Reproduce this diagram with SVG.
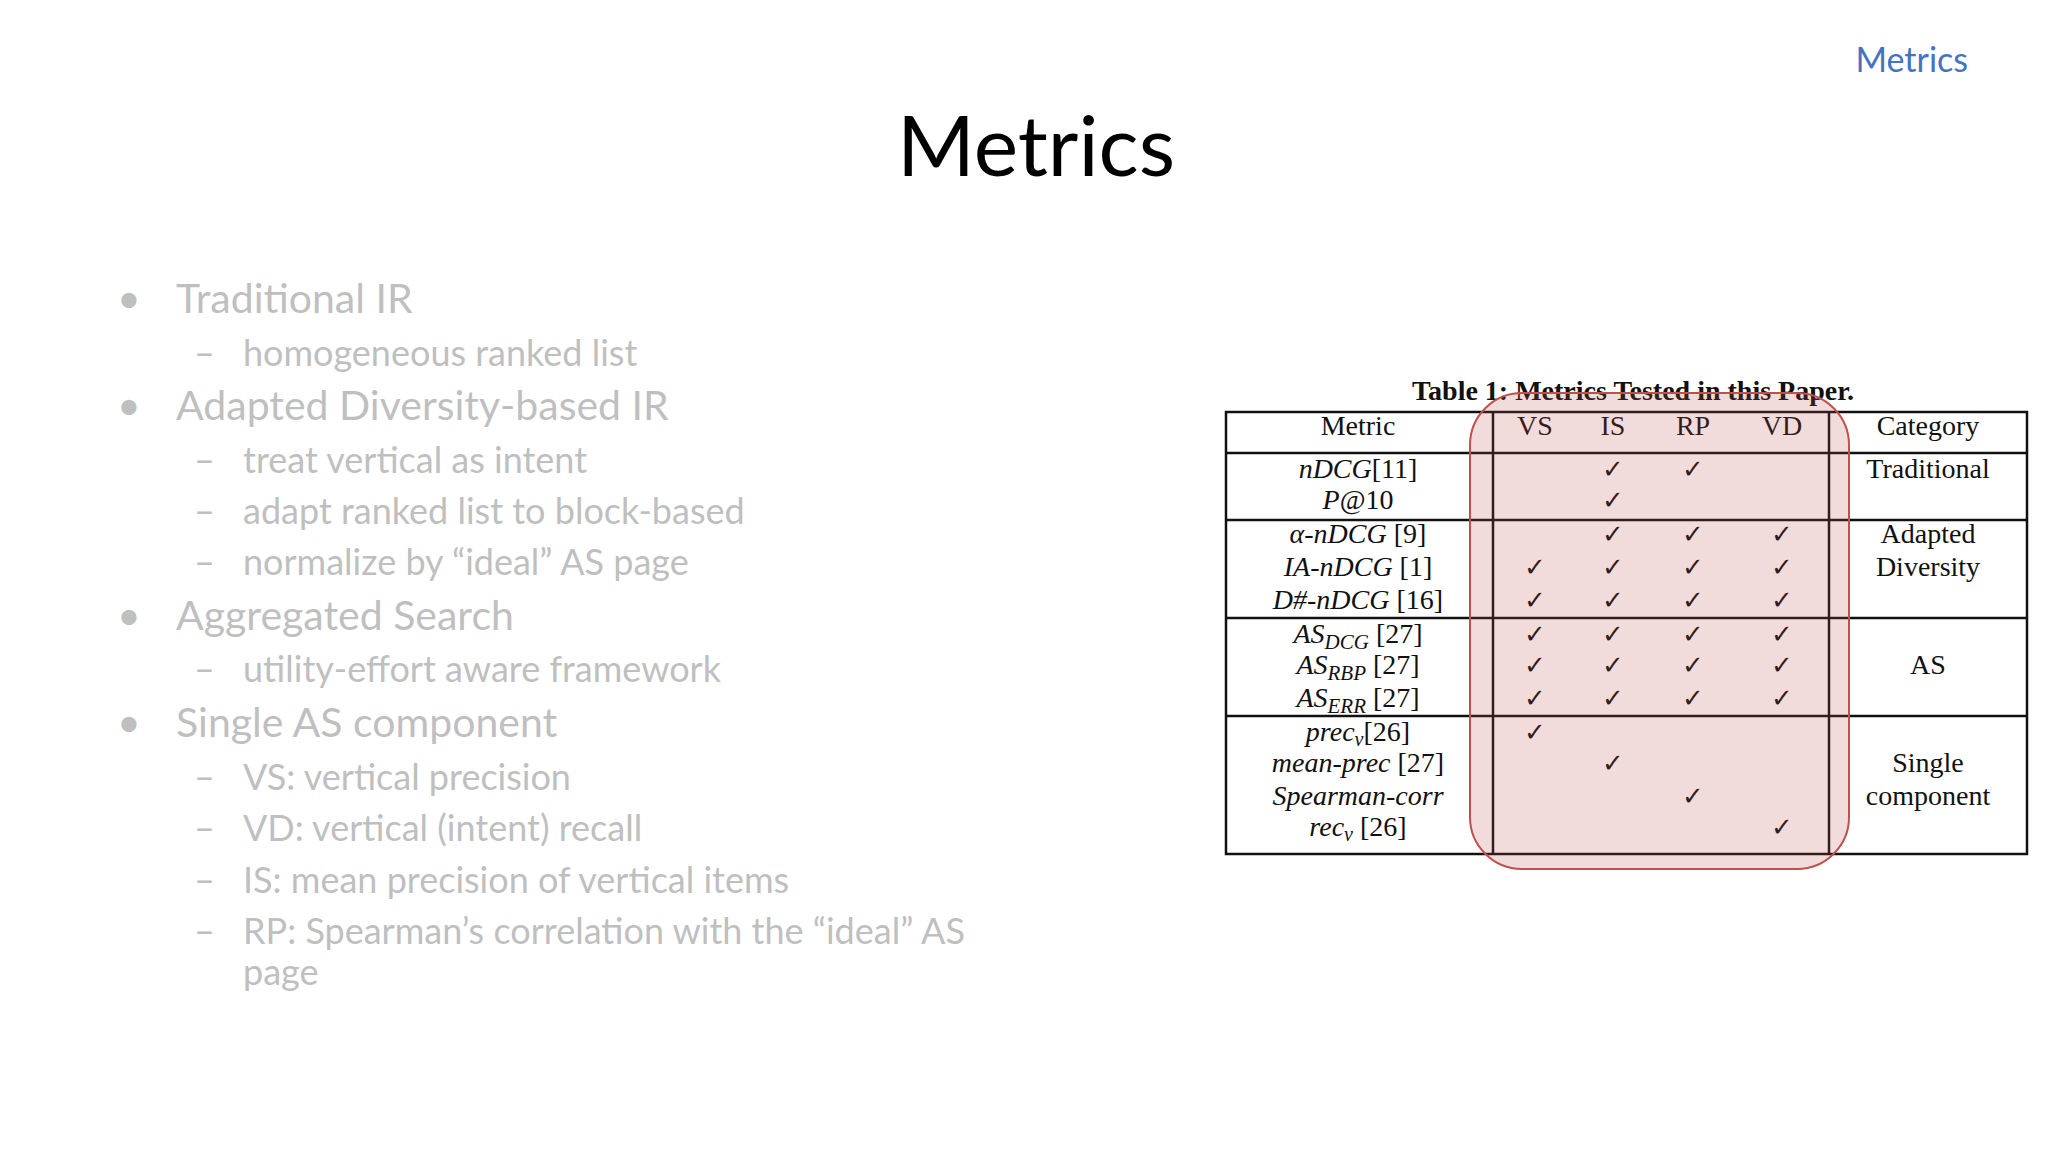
<svg xmlns="http://www.w3.org/2000/svg" width="2048" height="1152" viewBox="0 0 2048 1152">
<style>
.b{font-family:Lato,"Open Sans",sans-serif;fill:#bfbfbf;font-size:41px}
.s{font-family:Lato,"Open Sans",sans-serif;fill:#bfbfbf;font-size:36px}
.t{font-family:"Liberation Serif",serif;font-size:28px;fill:#111;text-anchor:middle}
.i{font-style:italic}
.c{font-family:"DejaVu Sans",sans-serif;font-size:26px;fill:#111;text-anchor:middle}
.ln{stroke:#111;stroke-width:2.5;fill:none}
</style>
<rect width="2048" height="1152" fill="#fff"/>
<text x="1968" y="72" font-family="Lato,'Open Sans',sans-serif" font-size="34" fill="#4472c4" text-anchor="end">Metrics</text>
<text x="1036" y="176" font-family="Lato,'Open Sans',sans-serif" font-size="84" fill="#000" text-anchor="middle">Metrics</text>
<g id="bullets">
<text class="b" x="117" y="313">•</text><text class="b" x="176" y="313">Traditional IR</text>
<text class="s" x="194" y="366">–</text><text class="s" x="243" y="366">homogeneous ranked list</text>
<text class="b" x="117" y="420">•</text><text class="b" x="176" y="420">Adapted Diversity-based IR</text>
<text class="s" x="194" y="473">–</text><text class="s" x="243" y="473">treat vertical as intent</text>
<text class="s" x="194" y="524">–</text><text class="s" x="243" y="524">adapt ranked list to block-based</text>
<text class="s" x="194" y="575">–</text><text class="s" x="243" y="575">normalize by “ideal” AS page</text>
<text class="b" x="117" y="630">•</text><text class="b" x="176" y="630">Aggregated Search</text>
<text class="s" x="194" y="682">–</text><text class="s" x="243" y="682">utility-effort aware framework</text>
<text class="b" x="117" y="737">•</text><text class="b" x="176" y="737">Single AS component</text>
<text class="s" x="194" y="790">–</text><text class="s" x="243" y="790">VS: vertical precision</text>
<text class="s" x="194" y="841">–</text><text class="s" x="243" y="841">VD: vertical (intent) recall</text>
<text class="s" x="194" y="893">–</text><text class="s" x="243" y="893">IS: mean precision of vertical items</text>
<text class="s" x="194" y="944">–</text><text class="s" x="243" y="944">RP: Spearman’s correlation with the “ideal” AS</text>
<text class="s" x="243" y="985">page</text>
</g>
<g id="table">
<text class="t" x="1633" y="400" font-weight="bold" font-size="35">Table 1:  Metrics Tested in this Paper.</text>
<rect class="ln" x="1226" y="412" width="801" height="442"/>
<line class="ln" x1="1226" y1="453" x2="2027" y2="453"/>
<line class="ln" x1="1226" y1="520" x2="2027" y2="520"/>
<line class="ln" x1="1226" y1="618" x2="2027" y2="618"/>
<line class="ln" x1="1226" y1="716" x2="2027" y2="716"/>
<line class="ln" x1="1493" y1="412" x2="1493" y2="854"/>
<line class="ln" x1="1829" y1="412" x2="1829" y2="854"/>
<text class="t" x="1358" y="435">Metric</text>
<text class="t" x="1535" y="435">VS</text><text class="t" x="1613" y="435">IS</text><text class="t" x="1693" y="435">RP</text><text class="t" x="1782" y="435">VD</text>
<text class="t" x="1928" y="435">Category</text>
<text class="t" x="1358" y="478"><tspan class="i">nDCG</tspan>[11]</text>
<text class="t i" x="1358" y="509">P<tspan font-style="normal">@10</tspan></text>
<text class="t" x="1358" y="543"><tspan class="i">α-nDCG</tspan> [9]</text>
<text class="t" x="1358" y="576"><tspan class="i">IA-nDCG</tspan> [1]</text>
<text class="t" x="1358" y="609"><tspan class="i">D#-nDCG</tspan> [16]</text>
<text class="t" x="1358" y="643"><tspan class="i">AS</tspan><tspan class="i" font-size="21" dy="6">DCG</tspan><tspan dy="-6"> [27]</tspan></text>
<text class="t" x="1358" y="674"><tspan class="i">AS</tspan><tspan class="i" font-size="21" dy="6">RBP</tspan><tspan dy="-6"> [27]</tspan></text>
<text class="t" x="1358" y="707"><tspan class="i">AS</tspan><tspan class="i" font-size="21" dy="6">ERR</tspan><tspan dy="-6"> [27]</tspan></text>
<text class="t" x="1358" y="741"><tspan class="i">prec</tspan><tspan class="i" font-size="20" dy="5">v</tspan><tspan dy="-5">[26]</tspan></text>
<text class="t" x="1358" y="772"><tspan class="i">mean-prec</tspan> [27]</text>
<text class="t i" x="1358" y="805">Spearman-corr</text>
<text class="t" x="1358" y="836"><tspan class="i">rec</tspan><tspan class="i" font-size="20" dy="5">v</tspan><tspan dy="-5"> [26]</tspan></text>
<text class="t" x="1928" y="478">Traditional</text>
<text class="t" x="1928" y="543">Adapted</text><text class="t" x="1928" y="576">Diversity</text>
<text class="t" x="1928" y="674">AS</text>
<text class="t" x="1928" y="772">Single</text><text class="t" x="1928" y="805">component</text>
<g id="checks">
<text class="c" x="1613" y="478">✓</text><text class="c" x="1693" y="478">✓</text>
<text class="c" x="1613" y="509">✓</text>
<text class="c" x="1613" y="543">✓</text><text class="c" x="1693" y="543">✓</text><text class="c" x="1782" y="543">✓</text>
<text class="c" x="1535" y="576">✓</text><text class="c" x="1613" y="576">✓</text><text class="c" x="1693" y="576">✓</text><text class="c" x="1782" y="576">✓</text>
<text class="c" x="1535" y="609">✓</text><text class="c" x="1613" y="609">✓</text><text class="c" x="1693" y="609">✓</text><text class="c" x="1782" y="609">✓</text>
<text class="c" x="1535" y="643">✓</text><text class="c" x="1613" y="643">✓</text><text class="c" x="1693" y="643">✓</text><text class="c" x="1782" y="643">✓</text>
<text class="c" x="1535" y="674">✓</text><text class="c" x="1613" y="674">✓</text><text class="c" x="1693" y="674">✓</text><text class="c" x="1782" y="674">✓</text>
<text class="c" x="1535" y="707">✓</text><text class="c" x="1613" y="707">✓</text><text class="c" x="1693" y="707">✓</text><text class="c" x="1782" y="707">✓</text>
<text class="c" x="1535" y="741">✓</text>
<text class="c" x="1613" y="772">✓</text>
<text class="c" x="1693" y="805">✓</text>
<text class="c" x="1782" y="836">✓</text>
</g>
</g>
<rect id="highlight" x="1470" y="393" width="379" height="476" rx="52" fill="#c0504d" fill-opacity="0.2" stroke="#c0504d" stroke-width="2"/>
</svg>
